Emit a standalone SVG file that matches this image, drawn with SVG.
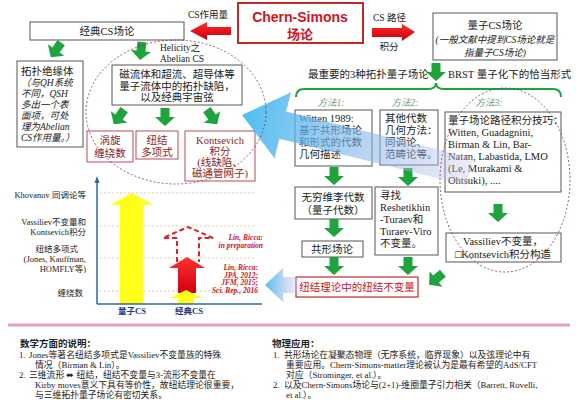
<svg xmlns="http://www.w3.org/2000/svg" width="576" height="414" viewBox="0 0 576 414">
<defs>
<style>
text{font-family:"Liberation Serif","Noto Sans CJK SC",serif;fill:#222;}
.box{fill:#fff;stroke:#555;stroke-width:1;}
.rbox{fill:#fff;stroke:#c04a55;stroke-width:1;}
.t{font-size:10.5px;}
.s{font-size:9.5px;}
.c{text-anchor:middle;}
.e{text-anchor:end;}
.it{font-style:italic;}
.rt{fill:#8b1d24;}
.m{font-size:9.5px;fill:#6f9a78;font-style:italic;}
.ax{font-size:8.5px;}
.ref{font-size:7.5px;font-weight:bold;font-style:italic;fill:#d0141c;}
.xl{font-size:8.5px;font-weight:bold;fill:#1a3a8a;}
.bt{font-size:8.8px;}
.bh{font-size:9.5px;font-weight:bold;}
.ell{fill:none;stroke:#8c3050;stroke-width:0.8;stroke-dasharray:2 2;}
.dot{stroke:#f2c7a4;stroke-width:1;stroke-dasharray:2 2;}
.title{font-family:"Liberation Sans","Noto Sans CJK SC",sans-serif;font-weight:bold;fill:#d4141c;text-anchor:middle;}
</style>
<linearGradient id="redg" x1="0" y1="0" x2="0" y2="1"><stop offset="0" stop-color="#ff3030"/><stop offset="1" stop-color="#d00010"/></linearGradient>
<linearGradient id="redh" x1="0" y1="0" x2="0" y2="1"><stop offset="0" stop-color="#ff2a2a"/><stop offset="1" stop-color="#c8000c"/></linearGradient>
<linearGradient id="blueg" x1="0" y1="0" x2="1" y2="0"><stop offset="0" stop-color="#39b8f0" stop-opacity="0.9"/><stop offset="0.5" stop-color="#7fb4e8" stop-opacity="0.6"/><stop offset="1" stop-color="#c9c3ea" stop-opacity="0.35"/></linearGradient>
<path id="ga" d="M-4.5,-9H4.5V0H10L0,9L-10,0H-4.5Z" fill="#1fa33d"/>
</defs>
<rect width="576" height="414" fill="#fff"/>

<!-- nodes -->
<g id="n-cs">
<rect x="238" y="3" width="125" height="40" fill="#fff" stroke="#c62828" stroke-width="2"/>
<text class="title" x="300" y="22" font-size="14">Chern-Simons</text>
<text class="title" x="300" y="39" font-size="13">场论</text>
</g>
<g id="n-classic">
<rect class="box" x="30" y="22" width="154" height="18"/>
<text class="t c" x="107" y="35">经典CS场论</text>
</g>
<g id="n-quantum">
<rect class="box" x="433" y="13" width="124" height="47"/>
<text class="t c" x="495" y="29">量子CS场论</text>
<text class="s c it" x="495" y="43">(一般文献中提到CS场论就是</text>
<text class="s c it" x="495" y="56">指量子CS场论)</text>
</g>
<g id="n-topo-ins">
<rect class="box" x="17" y="61" width="66" height="86"/>
<text class="t" x="21" y="75">拓扑绝缘体</text>
<text class="s it" x="21" y="86">（与QH系统</text>
<text class="s it" x="21" y="97">不同，QSH</text>
<text class="s it" x="21" y="108">多出一个表</text>
<text class="s it" x="21" y="119">面项，可处</text>
<text class="s it" x="21" y="130">理为Abelian</text>
<text class="s it" x="21" y="141">CS作用量。）</text>
</g>
<g id="n-helicity">
<text class="s" x="160" y="51">Helicity之</text>
<text class="s" x="160" y="62">Abelian CS</text>
</g>
<g id="n-fluid">
<rect class="box" x="112" y="65" width="130" height="40"/>
<text class="t c" x="177" y="78">磁流体和超流、超导体等</text>
<text class="t c" x="177" y="90">量子流体中的拓扑缺陷，</text>
<text class="t c" x="177" y="101">以及经典宇宙弦</text>
</g>
<g id="n-winding">
<rect class="rbox" x="87" y="131" width="46" height="31"/>
<text class="t c rt" x="110" y="144">涡旋</text>
<text class="t c rt" x="110" y="157">缠绕数</text>
</g>
<g id="n-knotpoly">
<rect class="rbox" x="136" y="131" width="42" height="28"/>
<text class="t c rt" x="157" y="144">纽结</text>
<text class="t c rt" x="157" y="156">多项式</text>
</g>
<g id="n-kontsevich">
<rect class="rbox" x="185" y="131" width="70" height="50"/>
<text class="t c rt" x="220" y="144">Kontsevich</text>
<text class="t c rt" x="220" y="155">积分</text>
<text class="t c rt" x="220" y="166">(线缺陷、</text>
<text class="t c rt" x="220" y="177">磁通管网子)</text>
</g>

<g id="n-top3">
<text class="t" x="308" y="78">最重要的3种拓扑量子场论</text>
<text class="t" x="448" y="78">BRST 量子化下的恰当形式</text>
<path d="M296,97 Q296,89 304,89 H428 Q436,89 436,83 Q436,89 444,89 H553 Q561,89 561,97" fill="none" stroke="#1fa33d" stroke-width="2"/>
<text class="m c" x="331" y="106">方法1:</text>
<text class="m c" x="405" y="106">方法2:</text>
<text class="m c" x="489" y="106">方法3:</text>
</g>
<g id="n-m1">
<rect class="box" x="295" y="110" width="77" height="56"/>
<text class="t" x="299" y="122">Witten 1989:</text>
<text class="t" x="299" y="134">基于共形场论</text>
<text class="t" x="299" y="146">和形式的代数</text>
<text class="t" x="299" y="158">几何描述</text>
</g>
<g id="n-m2">
<rect class="box" x="380" y="110" width="58" height="55"/>
<text class="t" x="385" y="122">其他代数</text>
<text class="t" x="385" y="134">几何方法：</text>
<text class="t" x="385" y="146">同调论、</text>
<text class="t" x="385" y="158">范畴论等。</text>
</g>
<g id="n-m3">
<rect class="box" x="445" y="112" width="116" height="80"/>
<text class="t" x="448" y="124">量子场论路径积分技巧：</text>
<text class="t" x="448" y="136">Witten, Guadagnini,</text>
<text class="t" x="448" y="148">Birman &amp; Lin, Bar-</text>
<text class="t" x="448" y="160">Natan, Labastida, LMO</text>
<text class="t" x="448" y="172">(Le, Murakami &amp;</text>
<text class="t" x="448" y="184">Ohtsuki), ....</text>
</g>
<g id="n-lie">
<rect class="box" x="295" y="187" width="77" height="32"/>
<text class="t c" x="333" y="201">无穷维李代数</text>
<text class="t c" x="333" y="214">（量子代数）</text>
</g>
<g id="n-rt">
<rect class="box" x="375" y="187" width="63" height="68"/>
<text class="t" x="380" y="199">寻找</text>
<text class="t" x="380" y="211">Reshetikhin</text>
<text class="t" x="380" y="223">-Turaev和</text>
<text class="t" x="380" y="235">Turaev-Viro</text>
<text class="t" x="380" y="247">不变量。</text>
</g>
<g id="n-cft">
<rect class="box" x="302" y="241" width="61" height="16"/>
<text class="t c" x="332" y="253">共形场论</text>
</g>
<g id="n-vass">
<rect class="box" x="446" y="233" width="115" height="29"/>
<text class="t c" x="503" y="245">Vassiliev不变量，</text>
<text class="t c" x="503" y="258">□Kontsevich积分构造</text>
</g>
<g id="n-knotinv">
<rect x="296" y="277" width="122" height="20" fill="#fff" stroke="#c62828" stroke-width="1.2"/>
<text class="t c" x="357" y="291" style="fill:#c8141c">纽结理论中的纽结不变量</text>
</g>

<!-- connectors -->
<g id="connectors">
<polygon points="190,31 207,22 207,27 231,27 231,35 207,35 207,40" fill="url(#redh)"/>
<text class="s" x="188" y="18">CS作用量</text>
<polygon points="415,32 402,24 402,28 372,28 372,37 402,37 402,41" fill="url(#redh)"/>
<text class="s" x="373" y="21">CS 路径</text>
<text class="s c" x="389" y="50">积分</text>
<use href="#ga" transform="translate(56,50) rotate(35)"/>
<use href="#ga" transform="translate(141,51) rotate(6)"/>
<use href="#ga" transform="translate(119,117) rotate(35)"/>
<use href="#ga" transform="translate(165,117)"/>
<use href="#ga" transform="translate(212,117) rotate(-35)"/>
<use href="#ga" transform="translate(436,72)"/>
<use href="#ga" transform="translate(334,176)"/>
<use href="#ga" transform="translate(408,177)"/>
<use href="#ga" transform="translate(334,228)"/>
<use href="#ga" transform="translate(498,213)"/>
<use href="#ga" transform="translate(334,266)"/>
<use href="#ga" transform="translate(408,266)"/>
<use href="#ga" transform="translate(436,279) rotate(50)"/>
<polygon points="0,0 42,-34 42,-14 235,-14 235,14 42,14 42,34" transform="translate(242,115) rotate(14)" fill="url(#blueg)"/>
<polygon points="265,285 283,268 283,277 297,277 297,293 283,293 283,302" fill="url(#blueg)"/>
<ellipse class="ell" cx="176" cy="112" rx="90" ry="72"/>
<ellipse class="ell" cx="505" cy="180" rx="65" ry="92"/>
</g>

<!-- chart -->
<g id="chart">
<line class="dot" x1="100" y1="193" x2="255" y2="193"/>
<line class="dot" x1="100" y1="226" x2="255" y2="226"/>
<line class="dot" x1="100" y1="258" x2="255" y2="258"/>
<line class="dot" x1="100" y1="291" x2="255" y2="291"/>
<polygon points="132,193 153,205 143,205 143,304 120,304 120,205 110,205" fill="#ffff1a"/>
<polyline points="177,262 177,238 163,238 188,227 213,238 199,238 199,262" fill="none" stroke="#e0202a" stroke-width="2" stroke-dasharray="5 3"/>
<polygon points="187,257 205,268 196,268 196,293 178,293 178,268 169,268" fill="url(#redg)"/>
<polygon points="186,290 202,298 194,298 194,304 178,304 178,298 170,298" fill="#ffff1a"/>
<line x1="97" y1="304" x2="97" y2="181" stroke="#2e6aa0" stroke-width="1.5"/>
<polygon points="97,176 94.5,183 99.5,183" fill="#2e6aa0"/>
<line x1="97" y1="304" x2="262" y2="304" stroke="#2e6aa0" stroke-width="1.5"/>
<text class="ax e" x="86" y="198">Khovanov 同调论等</text>
<text class="ax e" x="86" y="225">Vassiliev不变量和</text>
<text class="ax e" x="86" y="235">Kontsevich积分</text>
<text class="ax e" x="78" y="252">纽结多项式</text>
<text class="ax e" x="86" y="262">(Jones, Kauffman,</text>
<text class="ax e" x="86" y="272">HOMFLY等)</text>
<text class="ax e" x="83" y="296">缠绕数</text>
<text class="ref e" x="263" y="240">Lin, Ricca:</text>
<text class="ref e" x="263" y="248">in preparation</text>
<text class="ref e" x="258" y="270">Lin, Ricca:</text>
<text class="ref e" x="258" y="277.5">JPA, 2012;</text>
<text class="ref e" x="258" y="285">JFM, 2015;</text>
<text class="ref e" x="258" y="292.5">Sci. Rep., 2016</text>
<text class="xl c" x="132" y="314">量子CS</text>
<text class="xl c" x="189" y="314">经典CS</text>
</g>

<line x1="8" y1="325" x2="570" y2="325" stroke="#e4a3b2" stroke-width="3"/>

<g id="notes-math">
<text class="bh" x="20" y="347">数学方面的说明：</text>
<text class="bt" x="19" y="358">1.</text>
<text class="bt" x="29" y="358">Jones等著名纽结多项式是Vassiliev不变量族的特殊</text>
<text class="bt" x="35" y="368">情况（Birman &amp; Lin）。</text>
<text class="bt" x="19" y="378">2.</text>
<text class="bt" x="29" y="378">三维流形 ⬌ 纽结，纽结不变量与3-流形不变量在</text>
<text class="bt" x="35" y="388">Kirby moves意义下具有等价性，故纽结理论很重要，</text>
<text class="bt" x="35" y="398">与三维拓扑量子场论有密切关系。</text>
</g>
<g id="notes-phys">
<text class="bh" x="272" y="347">物理应用：</text>
<text class="bt" x="273" y="358">1.</text>
<text class="bt" x="284" y="358">共形场论在凝聚态物理（无序系统，临界现象）以及弦理论中有</text>
<text class="bt" x="286" y="368">重要应用。Chern-Simons-matter理论被认为是最有希望的AdS/CFT</text>
<text class="bt" x="286" y="378">对应（Strominger, et al.）。</text>
<text class="bt" x="273" y="388">2.</text>
<text class="bt" x="284" y="388">以及Chern-Simons场论与(2+1)-维圈量子引力相关（Barrett, Rovelli,</text>
<text class="bt" x="286" y="398">et al.）。</text>
</g>
</svg>
